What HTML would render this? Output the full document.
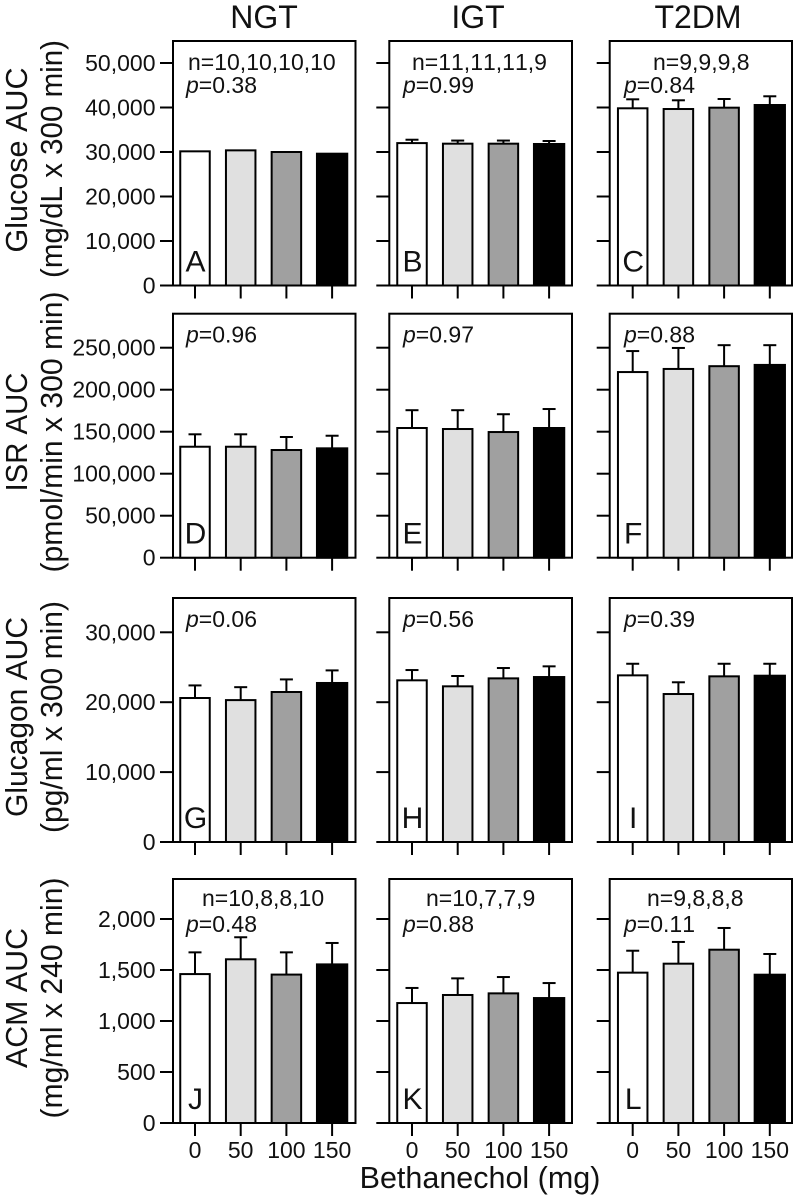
<!DOCTYPE html>
<html lang="en">
<head>
<meta charset="utf-8">
<title>Bethanechol AUC bar charts</title>
<style>
html,body{margin:0;padding:0;background:#fff;}
svg{display:block;}
text{font-family:"Liberation Sans",Arial,sans-serif;fill:#111;font-kerning:none;}
</style>
</head>
<body>
<svg id="chart" xmlns="http://www.w3.org/2000/svg" width="797" height="1199" viewBox="0 0 797 1199"></svg>
<script>
/* ---------- data ---------- */
const doses = ['0', '50', '100', '150'];
const groups = ['NGT', 'IGT', 'T2DM'];
const panelLetters = ['A', 'B', 'C', 'D', 'E', 'F', 'G', 'H', 'I', 'J', 'K', 'L'];

const glucoseTicks = [0, 10000, 20000, 30000, 40000, 50000];
const isrTicks = [0, 50000, 100000, 150000, 200000, 250000];
const glucagonTicks = [0, 10000, 20000, 30000];
const acmTicks = [0, 500, 1000, 1500, 2000];

const glucoseNgt = [30150, 30370, 30000, 29620];
const glucoseIgt = [32000, 31870, 31870, 31800];
const glucoseT2dm = [39820, 39660, 39960, 40560];
const glucoseNgtErr = [0, 0, 0, 0];
const glucoseIgtErr = [760, 700, 700, 670];
const glucoseT2dmErr = [2020, 1960, 1950, 1960];

const isrNgt = [132100, 132100, 128200, 130200];
const isrIgt = [154400, 153200, 149600, 154400];
const isrT2dm = [221000, 224700, 228000, 229500];
const isrNgtErr = [14800, 14800, 15500, 15000];
const isrIgtErr = [21200, 22400, 21200, 22600];
const isrT2dmErr = [25000, 25000, 25000, 23500];

const glucagonNgt = [20600, 20300, 21460, 22750];
const glucagonIgt = [23130, 22270, 23410, 23600];
const glucagonT2dm = [23840, 21170, 23700, 23790];
const glucagonNgtErr = [1800, 1850, 1800, 1800];
const glucagonIgtErr = [1470, 1480, 1480, 1530];
const glucagonT2dmErr = [1660, 1680, 1800, 1710];

const acmNgt = [1460, 1605, 1455, 1555];
const acmIgt = [1176, 1255, 1271, 1225];
const acmT2dm = [1474, 1562, 1699, 1454];
const acmNgtErr = [213, 216, 218, 210];
const acmIgtErr = [148, 163, 160, 147];
const acmT2dmErr = [215, 213, 213, 203];

const glucoseP = ['0.38', '0.99', '0.84'];
const isrP = ['0.96', '0.97', '0.88'];
const glucagonP = ['0.06', '0.56', '0.39'];
const acmP = ['0.48', '0.88', '0.11'];
const glucoseN = ['n=10,10,10,10', 'n=11,11,11,9', 'n=9,9,9,8'];
const acmN = ['n=10,8,8,10', 'n=10,7,7,9', 'n=9,8,8,8'];

const measures = [
  {key:'glucose', title:'Glucose AUC', unit:'(mg/dL x 300 min)', ticks:glucoseTicks, means:[glucoseNgt,glucoseIgt,glucoseT2dm], errs:[glucoseNgtErr,glucoseIgtErr,glucoseT2dmErr], p:glucoseP, n:glucoseN},
  {key:'isr', title:'ISR AUC', unit:'(pmol/min x 300 min)', ticks:isrTicks, means:[isrNgt,isrIgt,isrT2dm], errs:[isrNgtErr,isrIgtErr,isrT2dmErr], p:isrP, n:null},
  {key:'glucagon', title:'Glucagon AUC', unit:'(pg/ml x 300 min)', ticks:glucagonTicks, means:[glucagonNgt,glucagonIgt,glucagonT2dm], errs:[glucagonNgtErr,glucagonIgtErr,glucagonT2dmErr], p:glucagonP, n:null},
  {key:'acm', title:'ACM AUC', unit:'(mg/ml x 240 min)', ticks:acmTicks, means:[acmNgt,acmIgt,acmT2dm], errs:[acmNgtErr,acmIgtErr,acmT2dmErr], p:acmP, n:acmN}
];

/* ---------- layout ---------- */
const colFrames = [
  {left:173, right:355.5, firstBar:195, step:45.7, titleX:264, nX:188, nXLast:202, pX:186},
  {left:389.3, right:572, firstBar:412, step:45.7, titleX:478, nX:412, nXLast:426, pX:403},
  {left:609.7, right:792, firstBar:632.7, step:45.7, titleX:698, nX:653, nXLast:647, pX:624}
];
const rowFrames = [
  {top:41, bottom:285.5, maxTickY:63, nBase:70, pBase:93, t1:[160,185], t2:[159,238]},
  {top:313.7, bottom:557.7, maxTickY:347.7, nBase:0, pBase:342.7, t1:[432,119], t2:[432,281]},
  {top:598, bottom:842, maxTickY:632.3, nBase:0, pBase:627, t1:[717,200], t2:[717,232]},
  {top:879, bottom:1123, maxTickY:919, nBase:906, pBase:932, t1:[998,140], t2:[998,241]}
];
const fills = ['#ffffff', '#e0e0e0', '#a0a0a0', '#000000'];
const BAR_W = 29.5, CAP_W = 13, TICK = 13, SW = 2;

const svg = document.getElementById('chart');
const NS = 'http://www.w3.org/2000/svg';
function mk(tag, attrs, txt) {
  const el = document.createElementNS(NS, tag);
  for (const k in attrs) el.setAttribute(k, attrs[k]);
  if (txt !== undefined) el.textContent = txt;
  return el;
}
function line(x1, y1, x2, y2, w) {
  return mk('line', {x1:x1, y1:y1, x2:x2, y2:y2, stroke:'#000', 'stroke-width':w || SW});
}
function fmt(v) { return v.toLocaleString('en-US'); }
function scaleY(rowFrame, ticks, v) {
  const maxTick = ticks[ticks.length - 1];
  return rowFrame.bottom - v * (rowFrame.bottom - rowFrame.maxTickY) / maxTick;
}
function scaleX(colFrame, i) { return colFrame.firstBar + i * colFrame.step; }

measures.forEach(function (m, r) {
  const rf = rowFrames[r];

  const title1 = mk('text', {transform:'translate(27,' + rf.t1[0] + ') rotate(-90)', 'text-anchor':'middle', 'font-size':30.5, textLength:rf.t1[1], lengthAdjust:'spacingAndGlyphs'}, m.title);
  
  
  svg.appendChild(title1);

  const title2 = mk('text', {transform:'translate(62,' + rf.t2[0] + ') rotate(-90)', 'text-anchor':'middle', 'font-size':30.5, textLength:rf.t2[1], lengthAdjust:'spacingAndGlyphs'}, m.unit);
  
  
  svg.appendChild(title2);

  colFrames.forEach(function (cf, c) {
    const g = mk('g', {});
    
    
    svg.appendChild(g);

    const frame = mk('rect', {x:cf.left, y:rf.top, width:cf.right - cf.left, height:rf.bottom - rf.top, fill:'#fff', stroke:'#000', 'stroke-width':SW});
    
    
    g.appendChild(frame);

    m.ticks.forEach(function (t) {
      const y = scaleY(rf, m.ticks, t);
      const tk = line(cf.left - TICK, y, cf.left, y);
      
      
      g.appendChild(tk);
      if (c === 0) {
        const lb = mk('text', {x:155.5, y:y + 8, 'text-anchor':'end', 'font-size':23}, fmt(t));
        
        
        g.appendChild(lb);
      }
    });

    doses.forEach(function (d, i) {
      const x = scaleX(cf, i);
      const v = m.means[c][i];
      const e = m.errs[c][i];
      const yTop = scaleY(rf, m.ticks, v);

      if (e > 0) {
        const yErr = scaleY(rf, m.ticks, v + e);
        const stem = line(x, yTop, x, yErr);
        
        
        g.appendChild(stem);
        const cap = line(x - CAP_W / 2, yErr, x + CAP_W / 2, yErr);
        
        
        g.appendChild(cap);
      }

      const w = i === 3 ? BAR_W + 0.8 : BAR_W;
      const bar = mk('rect', {x:x - w / 2, y:yTop, width:w, height:rf.bottom - yTop, fill:fills[i], stroke:'#000', 'stroke-width':SW});
      
      
      g.appendChild(bar);

      const xt = line(x, rf.bottom, x, rf.bottom + TICK);
      
      
      g.appendChild(xt);

      if (r === 3) {
        const xl = mk('text', {x:x, y:1158, 'text-anchor':'middle', 'font-size':23}, d);
        
        
        g.appendChild(xl);
      }
    });

    if (m.n) {
      const nt = mk('text', {x:r === 3 ? cf.nXLast : cf.nX, y:rf.nBase, 'font-size':23}, m.n[c]);
      
      
      g.appendChild(nt);
    }

    const pt = mk('text', {x:cf.pX, y:rf.pBase, 'font-size':23});
    
    
    const pi = mk('tspan', {'font-style':'italic'}, 'p');
    pt.appendChild(pi);
    pt.appendChild(document.createTextNode('=' + m.p[c]));
    g.appendChild(pt);

    const letter = mk('text', {x:cf.firstBar + 0.5, y:rf.bottom - 14, 'text-anchor':'middle', 'font-size':30}, panelLetters[r * 3 + c]);
    
    
    g.appendChild(letter);
  });
});

groups.forEach(function (name, c) {
  const t = mk('text', {x:colFrames[c].titleX, y:28, 'text-anchor':'middle', 'font-size':32}, name);
  
  
  svg.appendChild(t);
});

const xTitle = mk('text', {x:480, y:1188, 'text-anchor':'middle', 'font-size':30.5}, 'Bethanechol (mg)');


svg.appendChild(xTitle);
</script>
</body>
</html>
